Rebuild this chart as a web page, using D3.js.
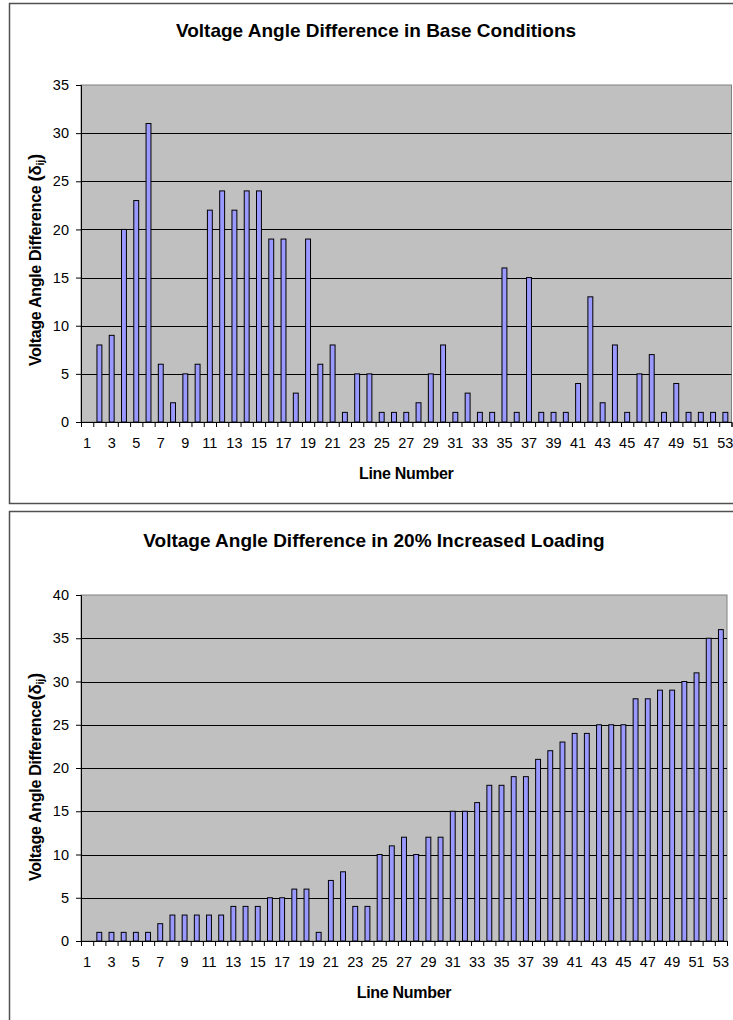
<!DOCTYPE html>
<html>
<head>
<meta charset="utf-8">
<script src="https://cdn.jsdelivr.net/npm/d3@7/dist/d3.min.js"></script>
<style>
  html, body { margin: 0; padding: 0; background: #fff; }
  svg { display: block; }
  text { font-family: "Liberation Sans", Arial, sans-serif; fill: #000; }
</style>
</head>
<body>
<svg id="chart" width="733" height="1020"></svg>
<script>
// Line numbers of the network branches
const lineNumbers = [1,2,3,4,5,6,7,8,9,10,11,12,13,14,15,16,17,18,19,20,
  21,22,23,24,25,26,27,28,29,30,31,32,33,34,35,36,37,38,39,40,
  41,42,43,44,45,46,47,48,49,50,51,52,53];

// Labelled categories on the x axis (every other line)
const lineLabels = [1,3,5,7,9,11,13,15,17,19,21,23,25,27,29,31,33,35,37,39,
  41,43,45,47,49,51,53];

// Voltage angle difference per line, base conditions
const baseAngles = [0,8,9,20,23,31,6,2,5,6,
  22,24,22,24,24,19,19,3,19,6,
  8,1,5,5,1,1,1,2,5,8,
  1,3,1,1,16,1,15,1,1,1,
  4,13,2,8,1,5,7,1,4,1,
  1,1,1];

// Voltage angle difference per line, 20% increased loading
const loadedAngles = [0,1,1,1,1,1,2,3,3,3,
  3,3,4,4,4,5,5,6,6,1,
  7,8,4,4,10,11,12,10,12,12,
  15,15,16,18,18,19,19,21,22,23,
  24,24,25,25,25,28,28,29,29,30,
  31,35,36];

// Value axis ticks
const baseTicks = [0,5,10,15,20,25,30,35];
const loadedTicks = [0,5,10,15,20,25,30,35,40];

const svg = d3.select("#chart");

function drawPanel(opt) {
  const g = svg.append("g");

  // chart frame
  g.append("rect")
    .attr("x", 9.5).attr("y", opt.frameTop + 0.5)
    .attr("width", 740).attr("height", opt.frameHeight)
    .attr("fill", "#fff").attr("stroke", "#505050").attr("stroke-width", 1.5);

  const x = d3.scaleBand()
    .domain(lineNumbers)
    .range([opt.left, opt.right])
    .paddingInner(0.6)
    .paddingOuter(0.3);

  const xEdge = d3.scaleLinear()
    .domain([0, lineNumbers.length])
    .range([opt.left, opt.right]);

  const y = d3.scaleLinear()
    .domain([0, d3.max(opt.ticks)])
    .range([opt.bottom, opt.top]);

  // plot background
  g.append("rect")
    .attr("x", opt.left).attr("y", opt.top)
    .attr("width", opt.right - opt.left).attr("height", opt.bottom - opt.top)
    .attr("fill", "#c0c0c0").attr("stroke", "#808080").attr("stroke-width", 1);

  // horizontal gridlines
  g.append("g")
    .selectAll("line")
    .data(opt.ticks.filter(t => t > 0 && t < d3.max(opt.ticks)))
    .join("line")
    .attr("x1", opt.left).attr("x2", opt.right)
    .attr("y1", d => Math.round(y(d)) + 0.5).attr("y2", d => Math.round(y(d)) + 0.5)
    .attr("stroke", "#000").attr("stroke-width", 1);

  // bars
  g.append("g")
    .selectAll("rect")
    .data(lineNumbers.map((n, i) => ({ n, v: opt.values[i] })).filter(d => d.v > 0))
    .join("rect")
    .attr("x", d => x(d.n))
    .attr("y", d => y(d.v))
    .attr("width", x.bandwidth())
    .attr("height", d => y(0) - y(d.v))
    .attr("fill", "#9999ff")
    .attr("stroke", "#000")
    .attr("stroke-width", 1);

  // y axis
  const yAxis = g.append("g")
    .attr("transform", `translate(${opt.left},0)`)
    .call(d3.axisLeft(y).tickValues(opt.ticks).tickSize(5).tickPadding(7));
  yAxis.select(".domain").attr("stroke", "#000");
  yAxis.selectAll(".tick line").attr("stroke", "#000");
  yAxis.selectAll(".tick text")
    .attr("font-size", 14.5).attr("font-family", "Liberation Sans, Arial, sans-serif")
    .attr("fill", "#111");

  // x axis: tick marks on category boundaries
  const xTickAxis = g.append("g")
    .attr("transform", `translate(0,${opt.bottom})`)
    .call(d3.axisBottom(xEdge).tickValues(d3.range(0, lineNumbers.length + 1))
      .tickSize(5).tickFormat(""));
  xTickAxis.select(".domain").attr("stroke", "#000");
  xTickAxis.selectAll(".tick line").attr("stroke", "#000");

  // x axis: category labels
  const xLabelAxis = g.append("g")
    .attr("transform", `translate(0,${opt.bottom})`)
    .call(d3.axisBottom(x).tickValues(lineLabels).tickSize(0).tickPadding(16));
  xLabelAxis.select(".domain").remove();
  xLabelAxis.selectAll(".tick text")
    .attr("font-size", 14.5).attr("font-family", "Liberation Sans, Arial, sans-serif")
    .attr("fill", "#111");

  // chart title
  g.append("text")
    .attr("x", opt.titleX).attr("y", opt.titleY)
    .attr("text-anchor", "middle")
    .attr("font-size", 19).attr("font-weight", "bold")
    .text(opt.title);

  // x axis title
  g.append("text")
    .attr("x", (opt.left + opt.right) / 2).attr("y", opt.bottom + 57)
    .attr("text-anchor", "middle")
    .attr("font-size", 16).attr("font-weight", "bold")
    .attr("letter-spacing", -0.3)
    .text("Line Number");

  // y axis title with subscripted delta
  const yt = g.append("text")
    .attr("transform", `translate(41,${opt.yTitleY}) rotate(-90)`)
    .attr("text-anchor", "middle")
    .attr("font-size", 16).attr("font-weight", "bold")
    .attr("letter-spacing", -0.3);
  yt.append("tspan").text(opt.yTitle);
  yt.append("tspan").attr("font-size", 19).text("(");
  yt.append("tspan").attr("font-size", 17).text("δ");
  yt.append("tspan").attr("font-size", 11).attr("dy", 3).text("ij");
  yt.append("tspan").attr("font-size", 19).attr("dy", -3).text(")");
}

drawPanel({
  frameTop: 3, frameHeight: 500,
  left: 81, right: 731.5, top: 85, bottom: 422,
  ticks: baseTicks, values: baseAngles,
  title: "Voltage Angle Difference in Base Conditions",
  titleX: 376, titleY: 37,
  yTitle: "Voltage Angle Difference ",
  yTitleY: 260
});

drawPanel({
  frameTop: 511, frameHeight: 520,
  left: 81, right: 727, top: 595, bottom: 941,
  ticks: loadedTicks, values: loadedAngles,
  title: "Voltage Angle Difference in 20% Increased Loading",
  titleX: 374, titleY: 547,
  yTitle: "Voltage Angle Difference",
  yTitleY: 777
});
</script>
</body>
</html>
